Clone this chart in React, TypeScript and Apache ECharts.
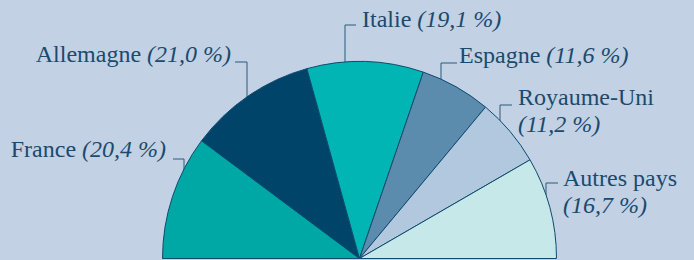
import React, { useEffect, useRef } from "react";
import * as echarts from "echarts";

const countries = ["France", "Allemagne", "Italie", "Espagne", "Royaume-Uni", "Autres pays"];
const shares = [20.4, 21.0, 19.1, 11.6, 11.2, 16.7];
const shareLabels = ["20,4 %", "21,0 %", "19,1 %", "11,6 %", "11,2 %", "16,7 %"];
const sliceColors = ["#00a8a5", "#00446a", "#00b5b3", "#5b8cad", "#b1c8de", "#c7e8e8"];
const lineBreakBefore = [false, false, false, false, true, true];

// label layout: [labelX, labelY, align, line points]
const labelLayouts: any[] = [
  [166, 149, "right", [[184, 230], [184, 159], [173, 159]]],
  [231, 54, "right", [[247, 130], [247, 62], [235, 62]]],
  [362, 19, "left", [[345, 122], [345, 25], [356, 25]]],
  [459, 55, "left", [[441, 108], [441, 63], [457, 63]]],
  [518, 110, "left", [[500, 148], [500, 105], [512, 105]]],
  [563, 191, "left", [[546, 228], [546, 183], [558, 183]]],
];

const TEXT = "#1a4a6e";
const FS = 24;

export default function App() {
  const ref = useRef<HTMLDivElement>(null);
  useEffect(() => {
    document.body.style.margin = "0";
    const chart = echarts.init(ref.current!, null, { renderer: "svg" });
    const total = shares.reduce((a, b) => a + b, 0);
    const data: any[] = countries.map((c, i) => ({
      name: c,
      value: shares[i],
      itemStyle: { color: sliceColors[i] },
    }));
    data.push({
      name: "",
      value: total,
      itemStyle: { color: "rgba(0,0,0,0)", borderWidth: 0 },
      label: { show: false },
      labelLine: { show: false },
      emphasis: { disabled: true },
    });
    chart.setOption({
      animation: false,
      backgroundColor: "#c2d1e3",
      series: [
        {
          type: "pie",
          center: [359.5, 258.5],
          radius: [0, 197],
          startAngle: 180,
          clockwise: true,
          avoidLabelOverlap: false,
          silent: true,
          itemStyle: { borderColor: "#0e4a6e", borderWidth: 1 },
          label: {
            show: true,
            color: TEXT,
            fontFamily: "Liberation Serif",
            fontSize: FS,
            lineHeight: 27,
            formatter: (p: any) => {
              const i = p.dataIndex;
              return "{n|" + countries[i] + "}" + (lineBreakBefore[i] ? "\n" : " ") + "{p|(" + shareLabels[i] + ")}";
            },
            rich: {
              n: { fontFamily: "Liberation Serif", fontSize: FS, color: TEXT, lineHeight: 27 },
              p: { fontFamily: "Liberation Serif", fontSize: FS, fontStyle: "italic", color: TEXT, lineHeight: 27 },
            },
          },
          labelLine: { show: true, smooth: false, lineStyle: { color: "#2a5a7c", width: 1 } },
          labelLayout: (params: any) => {
            const l = labelLayouts[params.dataIndex];
            if (!l) return {};
            return {
              x: l[0],
              y: l[1],
              align: l[2],
              verticalAlign: "middle",
              labelLinePoints: l[3],
            };
          },
          data,
        },
      ],
    });
    return () => chart.dispose();
  }, []);
  return <div ref={ref} style={{ position: "fixed", left: 0, top: 0, width: 694, height: 260 }} />;
}
